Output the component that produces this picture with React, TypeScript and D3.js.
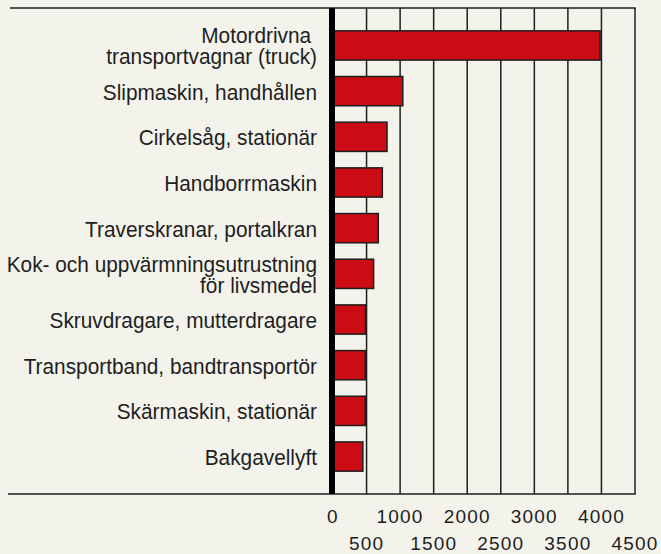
import React from "react";
import * as d3 from "d3";

const categories: string[][] = [
  ["Motordrivna\u00a0", "transportvagnar (truck)"],
  ["Slipmaskin, handhållen"],
  ["Cirkelsåg, stationär"],
  ["Handborrmaskin"],
  ["Traverskranar, portalkran"],
  ["Kok- och uppvärmningsutrustning", "för livsmedel"],
  ["Skruvdragare, mutterdragare"],
  ["Transportband, bandtransportör"],
  ["Skärmaskin, stationär"],
  ["Bakgavellyft"],
];
const values: number[] = [3980, 1040, 805, 735, 675, 605, 485, 480, 480, 445];
const tickValues: number[] = [0, 500, 1000, 1500, 2000, 2500, 3000, 3500, 4000, 4500];

const W = 661;
const H = 554;
const BG = "#f4f3eb";
const INK = "#1e1e1e";
const RED = "#cc0c14";
const FONT = "'Liberation Sans', Arial, sans-serif";

export default function App() {
  const top = 8;
  const bottom = 494;
  const x = d3.scaleLinear().domain([0, 4500]).range([333, 635]);
  const ids = categories.map((_, i) => String(i));
  const y = d3
    .scaleBand<string>()
    .domain(ids)
    .range([top, bottom])
    .paddingInner(0.36)
    .paddingOuter(0.5);
  const lineH = 21;

  return (
    <svg
      width={W}
      height={H}
      style={{ position: "absolute", left: 0, top: 0, display: "block" }}
      fontFamily={FONT}
    >
      <rect x={0} y={0} width={W} height={H} fill={BG} />
      {/* frame lines */}
      <line x1={10} x2={x(4500) + 0.75} y1={top} y2={top} stroke={INK} strokeWidth={1.5} />
      <line x1={8} x2={x(4500) + 0.75} y1={bottom} y2={bottom} stroke={INK} strokeWidth={1.5} />
      {/* grid lines */}
      {tickValues
        .filter((t) => t > 0)
        .map((t) => (
          <line
            key={t}
            x1={x(t)}
            x2={x(t)}
            y1={top}
            y2={bottom}
            stroke={INK}
            strokeWidth={1.5}
          />
        ))}
      {/* bars */}
      {values.map((v, i) => (
        <rect
          key={i}
          x={x(0)}
          y={y(ids[i])!}
          width={x(v) - x(0)}
          height={y.bandwidth()}
          fill={RED}
          stroke={INK}
          strokeWidth={1.5}
        />
      ))}
      {/* zero axis */}
      <line x1={x(0) - 1} x2={x(0) - 1} y1={top} y2={bottom} stroke="#000" strokeWidth={6} />
      {/* category labels */}
      {categories.map((lines, i) => {
        const cy = y(ids[i])! + y.bandwidth() / 2;
        const n = lines.length;
        return (
          <text
            key={i}
            textAnchor="end"
            fontSize={21.5}
            fill={INK}
            transform={`translate(317,0) scale(0.97,1)`}
          >
            {lines.map((l, j) => (
              <tspan key={j} x={0} y={cy + 8.5 + (j - (n - 1) / 2) * lineH}>
                {l}
              </tspan>
            ))}
          </text>
        );
      })}
      {/* tick labels */}
      {tickValues.map((t, i) => (
        <text
          key={t}
          x={x(t)}
          y={i % 2 === 0 ? 523 : 550}
          textAnchor="middle"
          fontSize={19}
          letterSpacing={1.2}
          fill={INK}
        >
          {t}
        </text>
      ))}
    </svg>
  );
}
